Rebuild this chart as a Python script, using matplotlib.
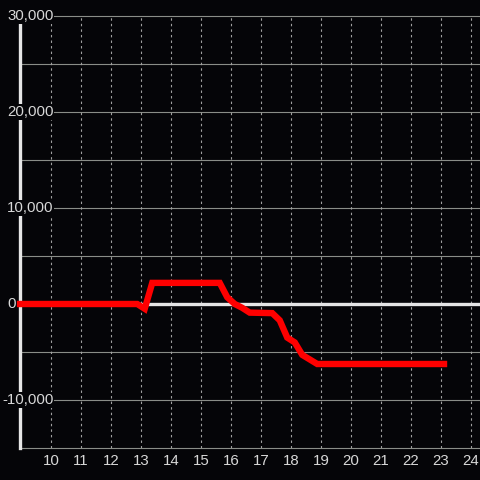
import matplotlib
matplotlib.use("Agg")
import matplotlib.pyplot as plt
import matplotlib.transforms as mtrans

# chart data
hours = [8.97, 12.875, 13.125, 13.375, 15.625, 15.875, 16.125, 16.375, 16.625,
         17.375, 17.625, 17.875, 18.125, 18.375, 18.875, 23.1]
values = [0, 0, -500, 2200, 2200, 700, 0, -400, -900,
          -950, -1700, -3500, -4000, -5300, -6250, -6250]
x_ticks = list(range(10, 25))
y_ticks = [-10000, 0, 10000, 20000, 30000]
y_grid = list(range(-15000, 30001, 5000))

bg = "#050508"
txt = "#d8d8d8"

fig = plt.figure(figsize=(4.8, 4.8), dpi=100, facecolor=bg)
ax = fig.add_axes([20 / 480, 32 / 480, 460 / 480, 432 / 480], facecolor=bg)
ax.set_xlim(8.967, 24.3)
ax.set_ylim(-15000, 30000)

# grid
for g in y_grid:
    ax.axhline(g, color="#8a8d88", lw=0.8, zorder=1, clip_on=False)
for t in x_ticks:
    ax.axvline(t, color="#a0a0a0", lw=0.8, ls=(0, (2.2, 2.8)), zorder=1)
ax.axhline(0, color="#e6e6e6", lw=2.4, zorder=2)

# data
ax.plot(hours, values, color="#ff0000", lw=4.6, solid_capstyle="projecting",
        solid_joinstyle="miter", zorder=3, clip_on=False)

for s in ["top", "right", "bottom"]:
    ax.spines[s].set_visible(False)
ax.spines["left"].set_color("#e6e6e6")
ax.spines["left"].set_linewidth(2.4)
ax.spines["left"].set_bounds(-15000, 29300)
ax.spines["left"].set_zorder(2.5)

ax.set_xticks(x_ticks)
ax.tick_params(axis="x", length=0, pad=4.5, colors=txt, labelsize=10.8)
for lbl in ax.get_xticklabels():
    lbl.set_fontfamily("Liberation Sans")
ax.set_yticks([])

# y labels sit over the axis line with a dark box
tr = mtrans.blended_transform_factory(fig.transFigure, ax.transData)
for v in y_ticks:
    xpos = 2 / 480 if v < 0 else 7 / 480
    fig.text(xpos, v, f"{v:,}", ha="left", va="center", color=txt, fontsize=10.8,
             family="Liberation Sans", zorder=2.8, transform=tr,
             bbox=dict(facecolor=bg, edgecolor="none", pad=0.5))

fig.savefig("out.png", dpi=100, facecolor=bg)
